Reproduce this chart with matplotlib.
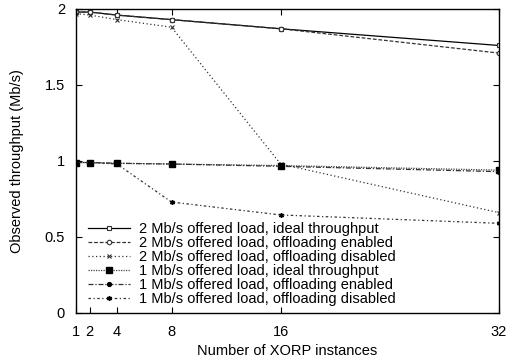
import matplotlib
matplotlib.use("Agg")
import matplotlib.pyplot as plt

plt.rcParams['font.family'] = ['Liberation Sans', 'DejaVu Sans']

# Number of XORP instances
instances = [1, 2, 4, 8, 16, 32]

# observed throughput (Mb/s)
ideal_2mb = [1.98, 1.98, 1.96, 1.93, 1.87, 1.76]
enabled_2mb = [1.98, 1.98, 1.96, 1.93, 1.87, 1.71]
disabled_2mb = [1.97, 1.96, 1.93, 1.88, 0.98, 0.66]
ideal_1mb = [0.99, 0.99, 0.985, 0.98, 0.97, 0.94]
enabled_1mb = [0.99, 0.99, 0.985, 0.98, 0.965, 0.93]
disabled_1mb = [0.99, 0.99, 0.98, 0.73, 0.645, 0.59]

labels = [
    "2 Mb/s offered load, ideal throughput",
    "2 Mb/s offered load, offloading enabled",
    "2 Mb/s offered load, offloading disabled",
    "1 Mb/s offered load, ideal throughput",
    "1 Mb/s offered load, offloading enabled",
    "1 Mb/s offered load, offloading disabled",
]

fig = plt.figure(figsize=(5.08, 3.62), dpi=100)
ax = fig.add_axes([76 / 508, 1 - 313 / 362, 423 / 508, 304 / 362])

lw = 0.9
ax.plot(instances, ideal_2mb, color='black', linestyle='-', lw=lw,
        marker='s', ms=3.5, mfc='white', mec='#333333', mew=0.8, label=labels[0])
ax.plot(instances, enabled_2mb, color='#333333', linestyle=(0, (3, 1.5)), lw=lw,
        marker='o', ms=3.2, mfc='white', mec='#333333', mew=0.8, label=labels[1])
ax.plot(instances, disabled_2mb, color='#333333', linestyle=(0, (1, 2)), lw=lw,
        marker='x', ms=3.5, mec='#333333', mew=0.8, label=labels[2])
ax.plot(instances, ideal_1mb, color='#444444', linestyle=(0, (1, 1)), lw=lw,
        marker='s', ms=3.8, mfc='black', mec='black', label=labels[3])
ax.plot(instances, enabled_1mb, color='#333333', linestyle=(0, (4, 1.5, 1, 1.5)), lw=lw,
        marker='o', ms=2.8, mfc='black', mec='black', label=labels[4])
ax.plot(instances, disabled_1mb, color='#333333', linestyle=(0, (2, 2, 1, 2)), lw=lw,
        marker=(6, 2, 0), ms=3.5, mec='black', mew=1.0, label=labels[5])

ax.set_xlim(1, 32)
ax.set_ylim(0, 2)
ax.set_xticks(instances)
ax.set_yticks([0, 0.5, 1, 1.5, 2])
ax.set_yticklabels(['0', '0.5', '1', '1.5', '2'])
ax.tick_params(direction='in', top=True, right=True, labelsize=10.5, length=4, width=0.8)
ax.tick_params(axis='x', pad=9)
ax.tick_params(axis='y', pad=8)
for s in ax.spines.values():
    s.set_linewidth(1.0)

ax.set_xlabel("Number of XORP instances", fontsize=10.5, labelpad=3)
ax.set_ylabel("Observed throughput (Mb/s)", fontsize=10.5, labelpad=15)

ax.legend(loc='lower left', bbox_to_anchor=(0.012, 0.0), frameon=False, fontsize=10.5,
          handlelength=2.85, handletextpad=0.6, labelspacing=0.0, borderaxespad=0.2,
          borderpad=0.3)

fig.savefig("out.png", dpi=100)
